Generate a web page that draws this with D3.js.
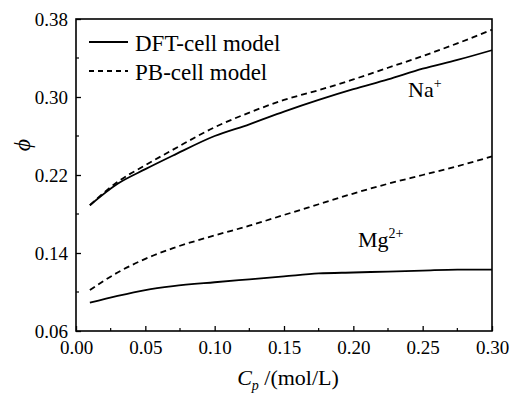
<html>
<head>
<style>
  body { margin: 0; background: #fff; }
  svg text { font-family: "Liberation Serif", Tinos, "Times New Roman", Times, "DejaVu Serif", serif; fill: #000; }
</style>
</head>
<body>
<div id="chart"></div>
<script src="https://cdnjs.cloudflare.com/ajax/libs/d3/7.8.5/d3.min.js"></script>
<script>
  var width = 511, height = 394;
  var margin = {top: 19, right: 19, bottom: 63, left: 76};
  var serif = "'Liberation Serif', Tinos, 'Times New Roman', Times, 'DejaVu Serif', serif";

  // concentration of polyelectrolyte, mol/L
  var cp = [0.01, 0.03, 0.05, 0.07, 0.10, 0.125, 0.15, 0.175, 0.20, 0.225, 0.25, 0.275, 0.30];

  var naDFT = [0.189, 0.211, 0.226, 0.240, 0.260, 0.272, 0.285, 0.297, 0.308, 0.318, 0.329, 0.338, 0.348];
  var naPB  = [0.189, 0.213, 0.230, 0.246, 0.269, 0.284, 0.297, 0.307, 0.318, 0.330, 0.342, 0.355, 0.369];
  var mgDFT = [0.089, 0.096, 0.102, 0.106, 0.110, 0.113, 0.116, 0.119, 0.120, 0.121, 0.122, 0.123, 0.123];
  var mgPB  = [0.102, 0.120, 0.134, 0.145, 0.158, 0.168, 0.179, 0.190, 0.201, 0.211, 0.220, 0.229, 0.239];

  var xTicks = [0.00, 0.05, 0.10, 0.15, 0.20, 0.25, 0.30];
  var yTicks = [0.06, 0.14, 0.22, 0.30, 0.38];

  var svg = d3.select("#chart").append("svg")
      .attr("width", width)
      .attr("height", height)
      .attr("font-family", serif);

  var x = d3.scaleLinear().domain([0, 0.30]).range([margin.left, width - margin.right]);
  var y = d3.scaleLinear().domain([0.06, 0.38]).range([height - margin.bottom, margin.top]);

  var fmt = d3.format(".2f");

  // minor ticks
  var xMinor = d3.range(0.025, 0.30, 0.05);
  var yMinor = d3.range(0.10, 0.38, 0.08);

  svg.append("g")
     .selectAll("line")
     .data(xMinor)
     .enter().append("line")
     .attr("x1", function(d){ return x(d); })
     .attr("x2", function(d){ return x(d); })
     .attr("y1", y(0.06))
     .attr("y2", y(0.06) - 3)
     .attr("stroke", "#000").attr("stroke-width", 1.2);

  svg.append("g")
     .selectAll("line")
     .data(yMinor)
     .enter().append("line")
     .attr("x1", x(0))
     .attr("x2", x(0) + 3)
     .attr("y1", function(d){ return y(d); })
     .attr("y2", function(d){ return y(d); })
     .attr("stroke", "#000").attr("stroke-width", 1.2);

  // axes
  var xAxis = svg.append("g")
     .attr("transform", "translate(0," + y(0.06) + ")")
     .call(d3.axisBottom(x).tickValues(xTicks).tickFormat(fmt).tickSizeInner(-5).tickSizeOuter(0).tickPadding(10));

  var yAxis = svg.append("g")
     .attr("transform", "translate(" + x(0) + ",0)")
     .call(d3.axisLeft(y).tickValues(yTicks).tickFormat(fmt).tickSizeInner(-5).tickSizeOuter(0).tickPadding(8));

  [xAxis, yAxis].forEach(function(g){
    g.attr("font-family", serif);
    g.select(".domain").remove();
    g.selectAll("line").attr("stroke-width", 1.3);
    g.selectAll("text").style("font-size", "19px").style("font-family", serif);
  });

  // frame
  svg.append("rect")
     .attr("x", x(0))
     .attr("y", y(0.38))
     .attr("width", x(0.30) - x(0))
     .attr("height", y(0.06) - y(0.38))
     .attr("fill", "none")
     .attr("stroke", "#000")
     .attr("stroke-width", 1.6);

  var line = d3.line()
     .x(function(d){ return x(d[0]); })
     .y(function(d){ return y(d[1]); })
     .curve(d3.curveMonotoneX);

  var series = [
    {vals: naDFT, dash: null},
    {vals: naPB, dash: "6,4"},
    {vals: mgDFT, dash: null},
    {vals: mgPB, dash: "6,4"}
  ];

  svg.append("g")
     .selectAll("path")
     .data(series)
     .enter().append("path")
     .attr("d", function(s){ return line(d3.zip(cp, s.vals)); })
     .attr("fill", "none")
     .attr("stroke", "#000")
     .attr("stroke-width", 1.8)
     .attr("stroke-dasharray", function(s){ return s.dash; });

  // legend
  var legend = [
    {name: "DFT-cell model", dash: null, yy: 42},
    {name: "PB-cell model", dash: "5,4", yy: 71}
  ];
  var lg = svg.append("g").selectAll("g").data(legend).enter().append("g");
  lg.append("line")
    .attr("x1", 89).attr("x2", 128)
    .attr("y1", function(d){ return d.yy; }).attr("y2", function(d){ return d.yy; })
    .attr("stroke", "#000").attr("stroke-width", 1.8)
    .attr("stroke-dasharray", function(d){ return d.dash; });
  lg.append("text")
    .attr("x", 135)
    .attr("y", function(d){ return d.yy + 9; })
    .style("font-size", "23px")
    .style("font-family", serif)
    .text(function(d){ return d.name; });

  // ion labels
  var na = svg.append("text").attr("x", 408).attr("y", 97).style("font-size", "22px").style("font-family", serif);
  na.append("tspan").text("Na");
  na.append("tspan").attr("dy", -9).style("font-size", "14px").text("+");

  var mg = svg.append("text").attr("x", 358).attr("y", 247).style("font-size", "22px").style("font-family", serif);
  mg.append("tspan").text("Mg");
  mg.append("tspan").attr("dy", -9).style("font-size", "14px").text("2+");

  // axis titles
  var xt = svg.append("text")
     .attr("x", 288).attr("y", 385)
     .attr("text-anchor", "middle")
     .style("font-size", "22px")
     .style("font-family", serif);
  xt.append("tspan").style("font-style", "italic").text("C");
  xt.append("tspan").attr("dy", 5).style("font-style", "italic").style("font-size", "14px").text("p");
  xt.append("tspan").attr("dy", -5).text(" /(mol/L)");

  svg.append("text")
     .attr("transform", "translate(30,145) rotate(-90)")
     .attr("text-anchor", "middle")
     .style("font-size", "24px")
     .style("font-style", "italic")
     .style("font-family", serif)
     .text("\u03D5");
</script>
</body>
</html>
